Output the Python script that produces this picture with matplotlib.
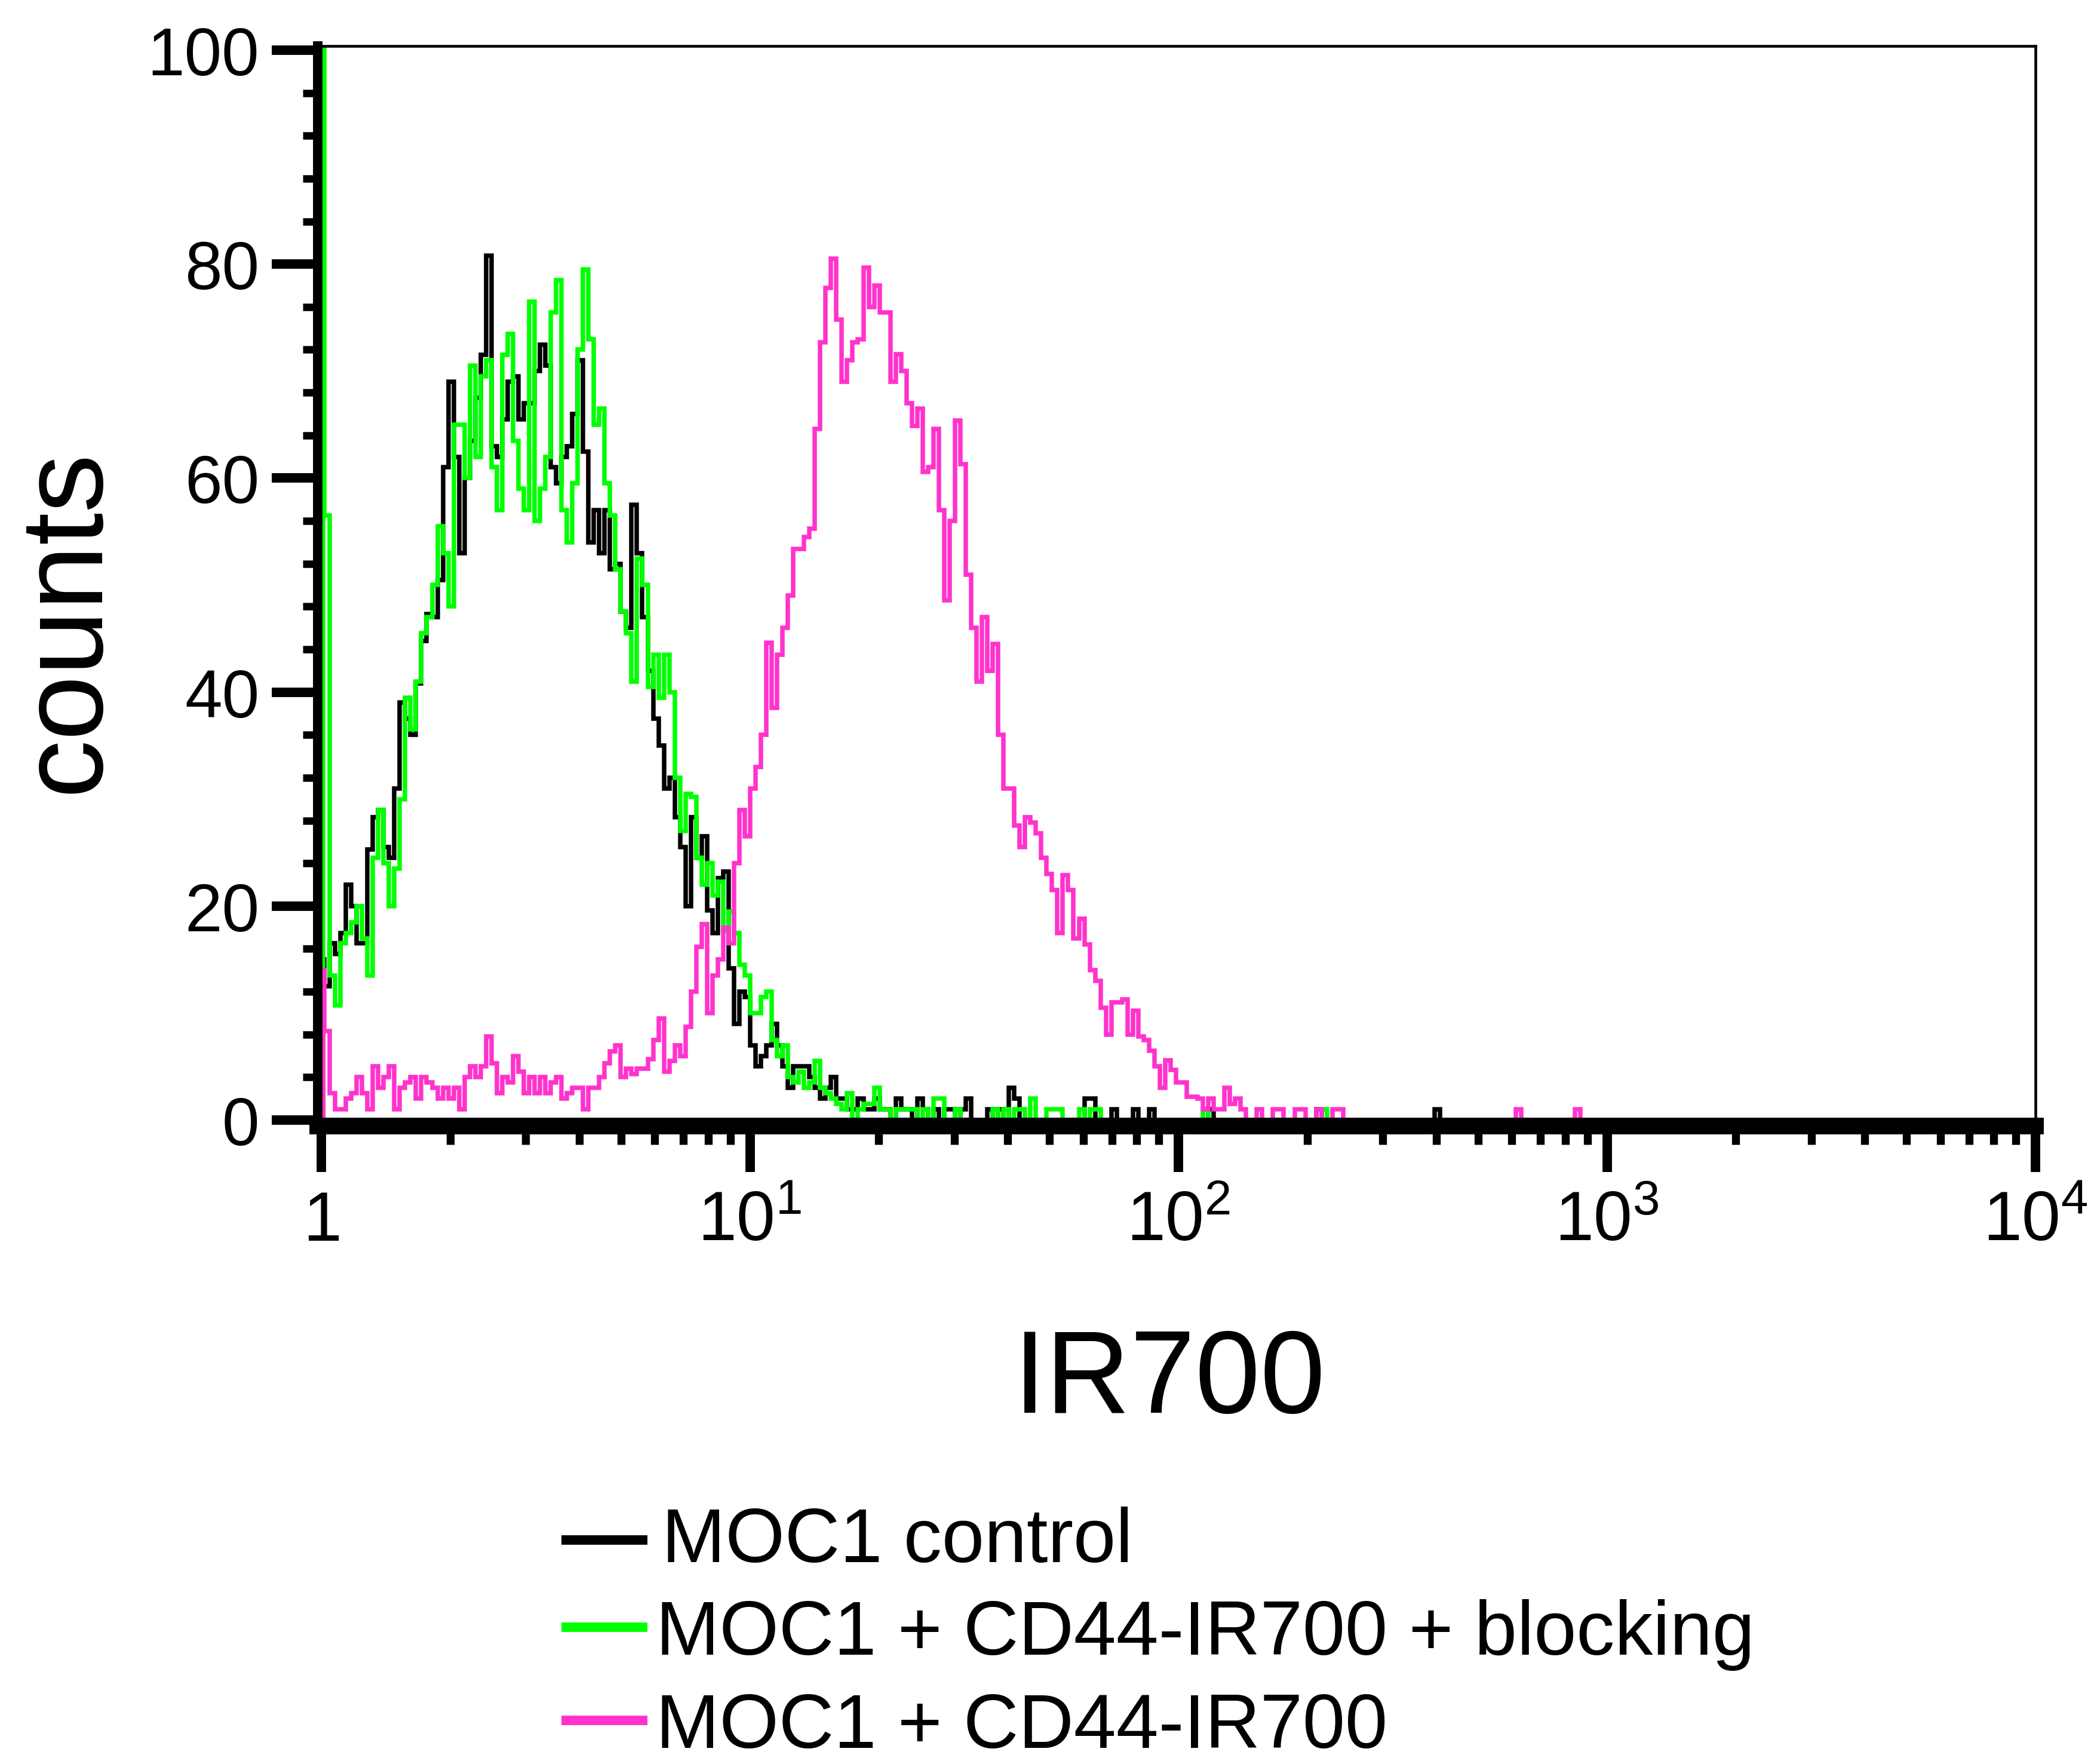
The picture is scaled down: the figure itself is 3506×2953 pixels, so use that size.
import numpy as np
import matplotlib
matplotlib.use("Agg")
import matplotlib.pyplot as plt
from matplotlib.lines import Line2D
from matplotlib.ticker import (FixedLocator, FixedFormatter, LogLocator,
                               MultipleLocator, NullFormatter)

plt.rcParams["font.family"] = ["Liberation Sans", "DejaVu Sans"]
plt.rcParams["mathtext.fontset"] = "custom"
plt.rcParams["mathtext.rm"] = "Liberation Sans"
plt.rcParams["mathtext.it"] = "Liberation Sans:italic"
plt.rcParams["mathtext.bf"] = "Liberation Sans:bold"

# channel geometry: ~79.5 channels per decade,
# a thin spike channel sits at x = 1, then the regular channels start
DECADE_PX = 717.5
BIN_LOG = 9.025 / DECADE_PX
SPIKE_START_LOG = 2.5 / DECADE_PX
FIRST_EDGE_LOG = 5.0 / DECADE_PX

series_names = ["MOC1 control", "MOC1 + CD44-IR700 + blocking", "MOC1 + CD44-IR700"]
series_colors = ["#000000", "#00ff00", "#ff33cc"]

# MOC1 control (black), channels 0..119
control_spike = 15
control_counts = [
    12.5, 16.5, 15.5, 17.5, 22, 20, 16.5, 16.5, 25.3, 28.3,
    29, 25.5, 24.5, 31, 39, 37.5, 36, 40.8, 44.8, 47.3,
    47, 50.5, 61, 69, 62, 53, 60, 63.5, 67.5, 71.5,
    80.8, 63, 62, 65.5, 69, 69.5, 65.5, 67, 67, 70,
    72.5, 70.5, 61, 59.5, 62, 63, 66, 71, 62.5, 54,
    57, 53, 57, 51.5, 52, 47.5, 46, 57.5, 53, 47,
    42, 37.5, 35, 31, 32, 28.3, 25.5, 20, 28.3, 24.5,
    26.5, 19.6, 17.5, 22.6, 23.2, 14.2, 9, 12, 11.5, 7,
    5, 6, 7, 9, 7, 5, 3, 5, 5, 5,
    4, 3, 2, 3, 4, 2, 2, 1, 1, 2,
    1, 1, 2, 1, 1, 0, 2, 1, 1, 0,
    2, 1, 0, 1, 0, 1, 1, 0, 1, 2,
]
control_tail = [(123, 1), (125, 1), (127, 3), (128, 2), (141, 2), (142, 2),
                (146, 1), (150, 1), (153, 1), (164, 1), (184, 1), (206, 1)]

# MOC1 + CD44-IR700 + blocking (green), channels 0..119
blocking_spike = 110
blocking_counts = [
    56.5, 13.5, 10.7, 16.5, 17.5, 18.5, 20, 17, 13.5, 24.5,
    29, 24, 20, 23.5, 30, 39.5, 36.5, 41, 45.5, 47,
    50, 55.5, 53, 48, 65, 65, 60, 70.5, 62, 69.5,
    71, 61, 57, 71.5, 73.5, 63.5, 59, 57, 76.5, 56,
    59, 62, 75.5, 78.5, 57, 54, 59.5, 72, 79.5, 73,
    65, 66.5, 59.5, 56.5, 51.5, 47.5, 45.5, 41, 52.5, 50,
    40.5, 43.5, 39.5, 43.5, 40, 32, 27, 30.5, 30.2, 24.5,
    22, 24, 21, 22.3, 17.7, 19.5, 17.5, 14.5, 13.5, 10,
    10, 11.5, 12, 7.5, 6, 7, 4, 3.5, 4.5, 3,
    3.5, 5.5, 3, 2.5, 2, 1.5, 1, 2.5, 0, 1,
    1.5, 1.5, 3, 1, 1, 0, 1, 1, 1, 1,
    0, 1, 0, 2, 2, 0, 0, 1, 0, 0,
]
blocking_tail = [(124, 1), (126, 1), (128, 1), (129, 1), (131, 2), (134, 1),
                 (135, 1), (136, 1), (140, 1), (142, 1), (143, 1), (163, 1),
                 (185, 1)]

# MOC1 + CD44-IR700 (pink), channels 0..170
cd44_spike = 14
cd44_counts = [
    8.3, 2.5, 1, 1, 2, 2.5, 4, 2.5, 1, 5,
    3, 4, 5, 1, 3, 3.5, 4, 2, 4, 3.5,
    3, 2, 3, 2, 3, 1, 4, 5, 4, 5,
    7.8, 5.3, 2.5, 4, 3.5, 6, 4.5, 2.5, 4, 2.5,
    4, 2.5, 3.5, 4, 2, 2.5, 3, 3, 1, 3,
    3, 4, 5.3, 6.4, 7, 4, 4.8, 4.3, 4.8, 4.8,
    5.7, 7.5, 9.5, 4.5, 5.5, 7, 6, 8.7, 12, 16.2,
    18.3, 10, 13.5, 15, 18, 16.5, 24, 29, 26.5, 31,
    33, 36, 44.6, 38.5, 43.5, 46, 49, 53.4, 53.4, 54.5,
    55.3, 64.6, 72.7, 77.8, 80.5, 74.8, 69, 71, 72.7, 73,
    79.7, 76, 78, 75.5, 75.5, 69, 71.6, 70, 67, 64.9,
    66.5, 60.6, 61, 64.6, 57, 48.6, 56, 65.4, 61.3, 51,
    46, 41, 47, 42, 44.5, 36, 31, 31, 27.5, 25.5,
    28.3, 27.8, 26.8, 24.5, 23, 21.5, 17.5, 22.9, 21.5, 17,
    18.8, 16.4, 14, 13, 10.5, 8, 11, 11, 11.3, 8,
    10.2, 7.8, 7.5, 6.5, 5, 3, 5.6, 4.7, 3.5, 3.5,
    2.2, 2.2, 2, 1, 2, 1, 1, 3, 1.5, 2,
    1,
]
cd44_tail = [(173, 1), (176, 1), (177, 1), (180, 1), (181, 1), (184, 1),
             (187, 1), (188, 1), (221, 1), (232, 1)]

x_ticks = [1, 10, 100, 1000, 10000]
x_tick_labels = [r"$\mathregular{1}$", r"$\mathregular{10^{1}}$",
                 r"$\mathregular{10^{2}}$", r"$\mathregular{10^{3}}$",
                 r"$\mathregular{10^{4}}$"]
y_ticks = [0, 20, 40, 60, 80, 100]


def build_stairs(spike, counts, tail):
    n_bins = max(len(counts), max(b for b, _ in tail) + 1)
    values = np.zeros(n_bins)
    values[:len(counts)] = counts
    for b, c in tail:
        values[b] = c
    values = np.concatenate([[spike], values])
    log_edges = np.concatenate(
        [[SPIKE_START_LOG], FIRST_EDGE_LOG + BIN_LOG * np.arange(n_bins + 1)]
    )
    return values, 10 ** log_edges


W, H = 3506, 2954
fig = plt.figure(figsize=(W / 300, H / 300), dpi=300)

# axes box in pixels: left spine 532, right 3408, top 77.8, bottom spine centre 1886
ax = fig.add_axes([532 / W, 1 - 1886 / H, (3408 - 532) / W, (1886 - 77.8) / H])

all_series = [
    (control_spike, control_counts, control_tail),
    (blocking_spike, blocking_counts, blocking_tail),
    (cd44_spike, cd44_counts, cd44_tail),
]
for (spike, counts, tail), color in zip(all_series, series_colors):
    vals, edges = build_stairs(spike, counts, tail)
    ax.stairs(vals, edges, baseline=0, color=color, linewidth=1.8)

ax.set_xscale("log")
ax.set_xlim(10 ** (-6 / DECADE_PX), 1e4)
ax.set_ylim(-0.558, 100.4)

ax.xaxis.set_major_locator(FixedLocator(x_ticks))
ax.xaxis.set_major_formatter(FixedFormatter(x_tick_labels))
ax.xaxis.set_minor_locator(LogLocator(base=10, subs=np.arange(2, 10), numticks=20))
ax.xaxis.set_minor_formatter(NullFormatter())
ax.yaxis.set_major_locator(FixedLocator(y_ticks))
ax.yaxis.set_minor_locator(MultipleLocator(4))

ax.spines["left"].set_linewidth(3.8)
ax.spines["bottom"].set_linewidth(6.7)
ax.spines["top"].set_linewidth(1.1)
ax.spines["right"].set_linewidth(1.1)

ax.tick_params(axis="y", which="major", direction="out", length=18.5, width=3.8,
               pad=5, labelsize=27)
ax.tick_params(axis="y", which="minor", direction="out", length=6, width=3.0)
ax.tick_params(axis="x", which="major", direction="out", length=18.5, width=3.8,
               pad=7, labelsize=28)
ax.tick_params(axis="x", which="minor", direction="out", length=7.4, width=3.2)

ax.set_ylabel("counts", fontsize=47)
ax.yaxis.set_label_coords(-0.114, 0.468)
ax.set_xlabel("IR700", fontsize=47)
ax.xaxis.set_label_coords(0.496, -0.1858)

# legend drawn by hand below the plot
legend_rows_y = [2579, 2725, 2881]
legend_base_y = [2615, 2770, 2926]
legend_text_x = [1108, 1098, 1098]
for name, color, ly, by, tx in zip(series_names, series_colors, legend_rows_y,
                                   legend_base_y, legend_text_x):
    fig.add_artist(Line2D([940 / W, 1083.5 / W], [1 - ly / H, 1 - ly / H],
                          color=color, linewidth=3.8, solid_capstyle="butt"))
    fig.text(tx / W, 1 - by / H, name, fontsize=30.7, ha="left", va="baseline")

fig.savefig("out.png", dpi=300)
